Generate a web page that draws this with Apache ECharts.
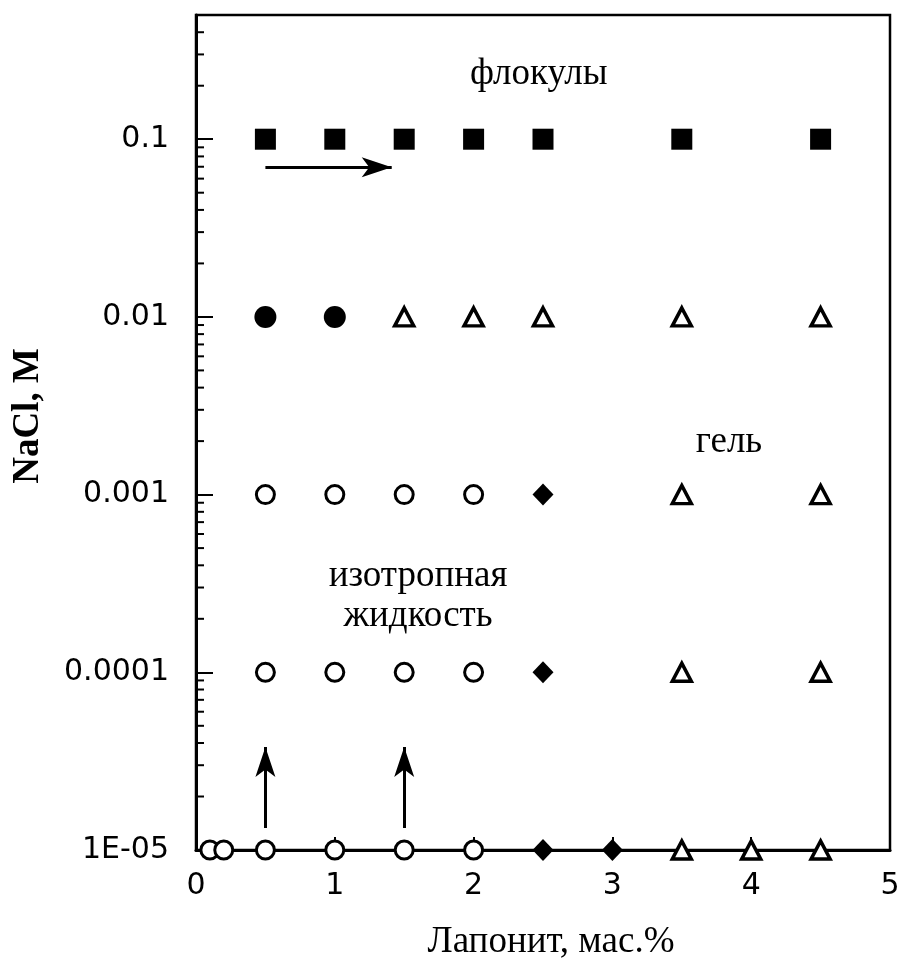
<!DOCTYPE html>
<html><head><meta charset="utf-8">
<script src="https://cdn.jsdelivr.net/npm/echarts@6/dist/echarts.min.js"></script>
<style>html,body{margin:0;padding:0;background:#fff}#c{width:903px;height:975px}</style>
</head><body><div id="c"></div>
<script>
// ---- data ----
const xTicks = [0, 1, 2, 3, 4, 5];
const yTickLabels = ['1E-05', '0.0001', '0.001', '0.01', '0.1'];
const squaresFilled = [[0.5,0.1],[1,0.1],[1.5,0.1],[2,0.1],[2.5,0.1],[3.5,0.1],[4.5,0.1]];
const circlesFilled = [[0.5,0.01],[1,0.01]];
const trianglesOpen = [[1.5,0.01],[2,0.01],[2.5,0.01],[3.5,0.01],[4.5,0.01],
  [3.5,0.001],[4.5,0.001],[3.5,0.0001],[4.5,0.0001],[3.5,1e-5],[4,1e-5],[4.5,1e-5]];
const circlesOpen = [[0.5,0.001],[1,0.001],[1.5,0.001],[2,0.001],
  [0.5,0.0001],[1,0.0001],[1.5,0.0001],[2,0.0001],
  [0.1,1e-5],[0.2,1e-5],[0.5,1e-5],[1,1e-5],[1.5,1e-5],[2,1e-5]];
const diamondsFilled = [[2.5,0.001],[2.5,0.0001],[2.5,1e-5],[3,1e-5]];
const arrows = [
  [[0.5,0.0695],[1.41,0.0695]],
  [[0.5,1.33e-5],[0.5,3.8e-5]],
  [[1.5,1.33e-5],[1.5,3.8e-5]]
];
const annotations = [
  {text:'флокулы', at:[2.47,0.232]},
  {text:'гель', at:[3.84,0.00196]},
  {text:'изотропная', at:[1.6,0.000345]},
  {text:'жидкость', at:[1.6,0.000208]}
];
const minorTicks = [];
for (let e = -5; e <= -1; e++) for (let k = 2; k <= 9; k++) { const v = k * Math.pow(10, e); if (v <= 0.5) minorTicks.push(v); }
const xName = 'Лапонит, мас.%';
const yName = 'NaCl, M';

// ---- chart ----
const chart = echarts.init(document.getElementById('c'));
const sans = 'DejaVu Sans';
const serif = 'Liberation Serif';
function yLabel(v) {
  const i = Math.round(Math.log10(v)) + 5;
  if (Math.abs(Math.log10(v) - Math.round(Math.log10(v))) > 0.01) return '';
  return yTickLabels[i] || '';
}
const option = {
  animation: false,
  backgroundColor: '#fff',
  grid: {left: 196, right: 13, top: 15, bottom: 125, show: true, borderColor: '#000', borderWidth: 2.5, backgroundColor: 'transparent'},
  xAxis: {
    type: 'value', min: xTicks[0], max: xTicks[xTicks.length-1], interval: 1,
    axisLine: {show: true, onZero: false, lineStyle: {color: '#000', width: 3}},
    axisTick: {show: true, inside: true, length: 13, lineStyle: {color: '#000', width: 2}},
    axisLabel: {color: '#000', fontFamily: sans, fontSize: 30, margin: 21},
    splitLine: {show: false}
  },
  yAxis: {
    type: 'log', logBase: 10, min: 1e-5, max: 0.5,
    axisLine: {show: true, lineStyle: {color: '#000', width: 3}},
    axisTick: {show: true, inside: true, length: 17, lineStyle: {color: '#000', width: 2}},
    axisLabel: {color: '#000', fontFamily: sans, fontSize: 30, margin: 27, showMaxLabel: false, formatter: yLabel},
    splitLine: {show: false}, minorTick: {show: false}
  },
  series: [
    {type: 'custom', silent: true, z: 1, data: minorTicks.map(v => [0, v]),
      renderItem: function (params, api) {
        const p = api.coord([0, api.value(1)]);
        return {type: 'line', shape: {x1: p[0], y1: p[1], x2: p[0] + 8, y2: p[1]}, style: {stroke: '#000', lineWidth: 2}};
      }},
    {type: 'scatter', clip: false, z: 5, symbol: 'rect', symbolSize: 21, data: squaresFilled, itemStyle: {color: '#000', opacity: 1}},
    {type: 'scatter', clip: false, z: 5, symbol: 'circle', symbolSize: 22, data: circlesFilled, itemStyle: {color: '#000', opacity: 1}},
    {type: 'scatter', clip: false, z: 5, symbol: 'circle', symbolSize: 18, data: circlesOpen, itemStyle: {color: '#fff', borderColor: '#000', borderWidth: 3, opacity: 1}},
    {type: 'scatter', clip: false, z: 5, symbol: 'triangle', symbolSize: [19, 18], data: trianglesOpen, itemStyle: {color: '#fff', borderColor: '#000', borderWidth: 3.5, opacity: 1}},
    {type: 'scatter', clip: false, z: 5, symbol: 'diamond', symbolSize: [21, 22], data: diamondsFilled, itemStyle: {color: '#000', opacity: 1}},
    {type: 'line', data: [], markLine: {silent: true, symbol: ['none', 'arrow'], symbolSize: [15, 30], label: {show: false},
      lineStyle: {color: '#000', width: 3, type: 'solid'},
      data: arrows.map(a => [{coord: a[0]}, {coord: a[1]}])}}
  ]
};
chart.setOption(option);
const g = annotations.map(a => {
  const p = chart.convertToPixel({gridIndex: 0}, a.at);
  return {type: 'text', x: p[0], y: p[1], style: {text: a.text, fontFamily: serif, fontSize: 37, fill: '#000', align: 'center', verticalAlign: 'middle'}};
});
g.push({type: 'text', x: 551, y: 942, style: {text: xName, fontFamily: serif, fontSize: 37, fill: '#000', align: 'center', verticalAlign: 'middle'}});
g.push({type: 'text', x: 28, y: 416, rotation: Math.PI / 2, style: {text: yName, fontFamily: serif, fontWeight: 'bold', fontSize: 37, fill: '#000', align: 'center', verticalAlign: 'middle'}});
chart.setOption({graphic: g});
</script></body></html>
